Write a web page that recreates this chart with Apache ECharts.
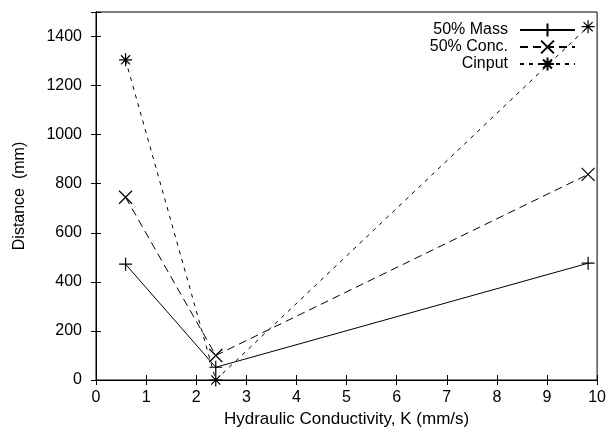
<!DOCTYPE html>
<html>
<head>
<meta charset="utf-8">
<script src="https://cdn.jsdelivr.net/npm/echarts@6/dist/echarts.min.js"></script>
<style>html,body{margin:0;padding:0;background:#fff}#c{width:609px;height:436px}</style>
</head>
<body>
<div id="c"></div>
<script>
var kValues = [0.59, 2.39, 9.82];
var massValues = [472, 52, 476];
var concValues = [745, 100, 838];
var cinputValues = [1305, 0, 1440];
var xTicks = [0, 1, 2, 3, 4, 5, 6, 7, 8, 9, 10];
var yTicks = [0, 200, 400, 600, 800, 1000, 1200, 1400];
var seriesNames = ['50% Mass', '50% Conc.', 'Cinput'];

function pairs(xs, ys) { return xs.map(function (x, i) { return [x, ys[i]]; }); }

var PLUS = 'path://M0,5L10,5M5,0L5,10';
var CROSS = 'path://M0,0L10,10M10,0L0,10';
var STAR = 'path://M0,5L10,5M5,0L5,10M1.5,1.5L8.5,8.5M8.5,1.5L1.5,8.5';
var FONT = 'Liberation Sans';

function mk(name, data, sym, dash) {
  return {
    name: name, type: 'line', data: data,
    symbol: sym, symbolSize: 13, showSymbol: true,
    lineStyle: { color: '#000', width: 1, type: dash },
    itemStyle: { color: 'rgba(0,0,0,0)', borderColor: '#000', borderWidth: 1.2 },
    emphasis: { disabled: true }, animation: false, z: 3
  };
}

var chart = echarts.init(document.getElementById('c'), null, { renderer: 'canvas' });
var axisCommon = {
  axisLine: { show: true, lineStyle: { color: '#000', width: 1 } },
  axisTick: { show: true, inside: true, length: 5, lineStyle: { color: '#000' } },
  splitLine: { show: false }
};
chart.setOption({
  animation: false,
  grid: { left: 96, right: 11, top: 12, bottom: 56, show: true, borderColor: '#000', borderWidth: 1 },
  legend: {
    data: seriesNames, orient: 'vertical', right: 28, top: 17,
    align: 'right', itemWidth: 55, itemHeight: 16, itemGap: 1,
    textStyle: { fontFamily: FONT, fontSize: 16, color: '#000', padding: [0, 7, 0, 0] },
    backgroundColor: 'transparent'
  },
  xAxis: [
    Object.assign({
      type: 'value', min: 0, max: 10, interval: 1, position: 'bottom',
      name: 'Hydraulic Conductivity, K (mm/s)', nameLocation: 'middle', nameGap: 24,
      nameTextStyle: { fontFamily: FONT, fontSize: 17, color: '#000' },
      axisLabel: { margin: 10, fontFamily: FONT, fontSize: 16, color: '#000',
        formatter: function (v) { return xTicks.indexOf(v) >= 0 ? String(v) : ''; } }
    }, axisCommon),
    Object.assign({
      type: 'value', min: 0, max: 10, interval: 1, position: 'top',
      axisLabel: { show: false }
    }, axisCommon)
  ],
  yAxis: [
    Object.assign({
      type: 'value', min: 0, max: 1500, interval: 200, position: 'left',
      name: 'Distance  (mm)', nameLocation: 'middle', nameGap: 68,
      nameTextStyle: { fontFamily: FONT, fontSize: 16, color: '#000' },
      axisLabel: { margin: 14, fontFamily: FONT, fontSize: 16, color: '#000',
        formatter: function (v) { return yTicks.indexOf(v) >= 0 ? String(v) : ''; } }
    }, axisCommon),
    Object.assign({
      type: 'value', min: 0, max: 1500, interval: 200, position: 'right',
      axisLabel: { show: false }
    }, axisCommon)
  ],
  series: [
    mk(seriesNames[0], pairs(kValues, massValues), PLUS, 'solid'),
    mk(seriesNames[1], pairs(kValues, concValues), CROSS, [8, 5]),
    mk(seriesNames[2], pairs(kValues, cinputValues), STAR, [4, 5])
  ]
});
</script>
</body>
</html>
